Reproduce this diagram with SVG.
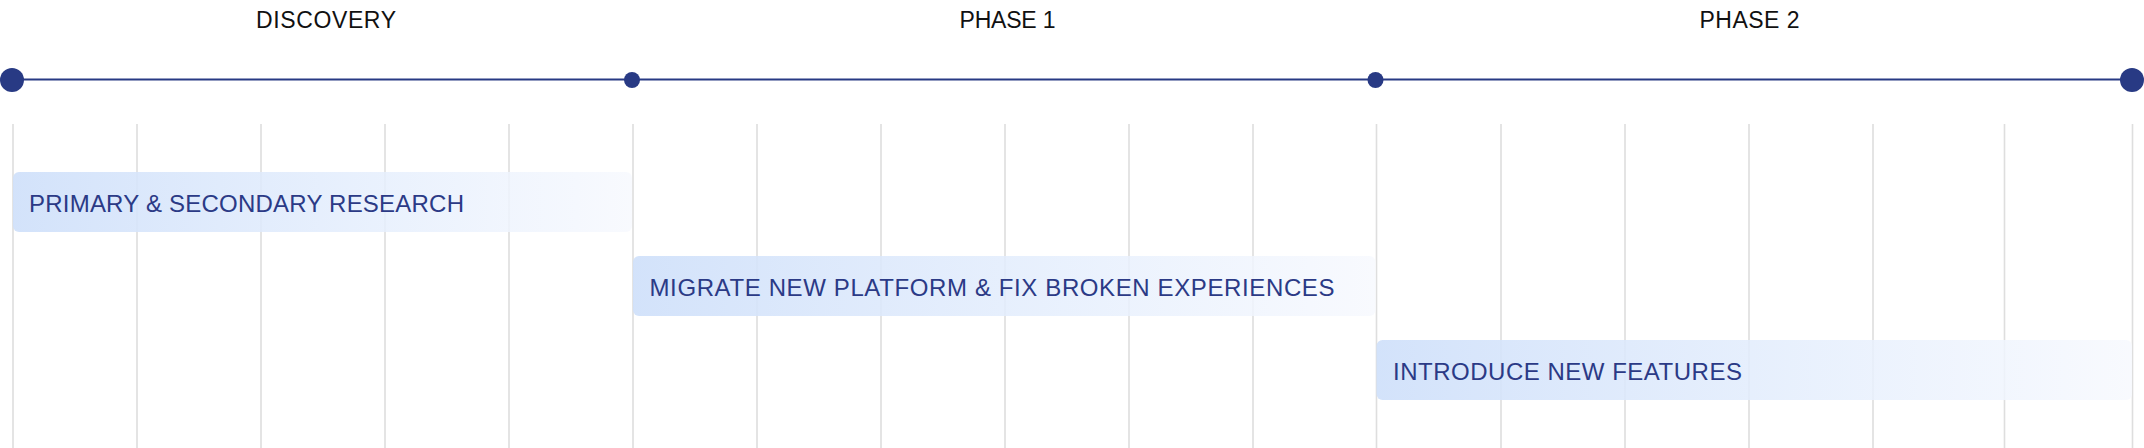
<svg xmlns="http://www.w3.org/2000/svg" width="2144" height="448" viewBox="0 0 2144 448">
  <style>
    .phase { font-family: "Liberation Sans", Arial, sans-serif; font-size: 23px; fill: #111111; text-anchor: middle; }
    .grid line { stroke: #dedede; stroke-width: 1.6; }
    .bar { fill: url(#barGrad); }
    .label { font-family: "Liberation Sans", Arial, sans-serif; font-size: 24px; fill: #2b3a86; }
    .dot { fill: #283a84; }
  </style>
  <defs>
    <linearGradient id="barGrad" x1="0" y1="0" x2="1" y2="0">
      <stop offset="0" stop-color="#cfe0fa" stop-opacity="0.92"/>
      <stop offset="0.6" stop-color="#e6effd" stop-opacity="0.85"/>
      <stop offset="1" stop-color="#f7f9fe" stop-opacity="0.85"/>
    </linearGradient>
  </defs>

  <g id="headers">
    <text class="phase" x="326" y="28" textLength="140" lengthAdjust="spacing">DISCOVERY</text>
    <text class="phase" x="1007.5" y="28" textLength="96" lengthAdjust="spacing">PHASE 1</text>
    <text class="phase" x="1749.5" y="28" textLength="100" lengthAdjust="spacing">PHASE 2</text>
  </g>

  <g id="grid" class="grid">
    <line x1="13" y1="124" x2="13" y2="448"/>
    <line x1="137" y1="124" x2="137" y2="448"/>
    <line x1="261" y1="124" x2="261" y2="448"/>
    <line x1="385" y1="124" x2="385" y2="448"/>
    <line x1="509" y1="124" x2="509" y2="448"/>
    <line x1="633" y1="124" x2="633" y2="448"/>
    <line x1="757" y1="124" x2="757" y2="448"/>
    <line x1="881" y1="124" x2="881" y2="448"/>
    <line x1="1005" y1="124" x2="1005" y2="448"/>
    <line x1="1129" y1="124" x2="1129" y2="448"/>
    <line x1="1253" y1="124" x2="1253" y2="448"/>
    <line x1="1376.5" y1="124" x2="1376.5" y2="448"/>
    <line x1="1501" y1="124" x2="1501" y2="448"/>
    <line x1="1625" y1="124" x2="1625" y2="448"/>
    <line x1="1749" y1="124" x2="1749" y2="448"/>
    <line x1="1873" y1="124" x2="1873" y2="448"/>
    <line x1="2004.5" y1="124" x2="2004.5" y2="448"/>
    <line x1="2132.5" y1="124" x2="2132.5" y2="448"/>
  </g>

  <g id="connectors">
    <line x1="12" y1="79.5" x2="2132" y2="79.5" stroke="#283a84" stroke-width="2"/>
  </g>

  <g id="milestone-start"><circle class="dot" cx="12" cy="80" r="12"/></g>
  <g id="milestone-phase1"><circle class="dot" cx="632" cy="80" r="8"/></g>
  <g id="milestone-phase2"><circle class="dot" cx="1375.5" cy="80" r="8"/></g>
  <g id="milestone-end"><circle class="dot" cx="2132" cy="80" r="12"/></g>

  <g id="task-research">
    <rect class="bar" x="13" y="172" width="619" height="60" rx="6"/>
    <text class="label" x="29" y="212" textLength="435" lengthAdjust="spacing">PRIMARY &amp; SECONDARY RESEARCH</text>
  </g>
  <g id="task-migrate">
    <rect class="bar" x="633" y="256" width="742.5" height="60" rx="6"/>
    <text class="label" x="649.5" y="296" textLength="685" lengthAdjust="spacing">MIGRATE NEW PLATFORM &amp; FIX BROKEN EXPERIENCES</text>
  </g>
  <g id="task-features">
    <rect class="bar" x="1376.5" y="340" width="755.5" height="60" rx="6"/>
    <text class="label" x="1393" y="380" textLength="349" lengthAdjust="spacing">INTRODUCE NEW FEATURES</text>
  </g>
</svg>
